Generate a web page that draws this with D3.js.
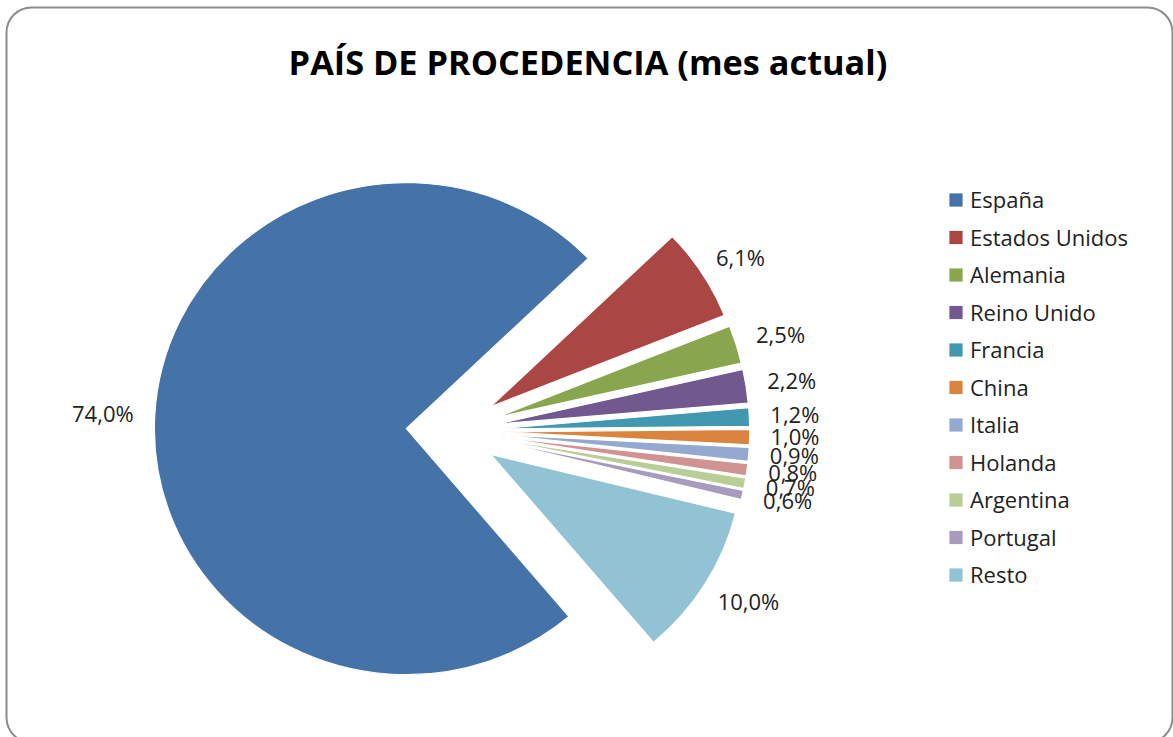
<!DOCTYPE html>
<html lang="es">
<head>
  <meta charset="UTF-8">
  <title>País de procedencia (mes actual)</title>
  <script src="https://d3js.org/d3.v7.min.js"></script>
  <style>
    body {
      margin: 0;
      background: #fff;
      font-family: 'Open Sans', sans-serif;
    }
  </style>
</head>
<body>
  <script>
    var countries = ["España", "Estados Unidos", "Alemania", "Reino Unido", "Francia", "China",
                     "Italia", "Holanda", "Argentina", "Portugal", "Resto"];
    var shares = [74.0, 6.1, 2.5, 2.2, 1.2, 1.0, 0.9, 0.8, 0.7, 0.6, 10.0];
    var colors = ["#4572A7", "#AA4643", "#89A54E", "#71588F", "#4198AF", "#DB843D",
                  "#93A9CF", "#D19392", "#B9CD96", "#A99BBD", "#92C3D4"];
    var title = "PAÍS DE PROCEDENCIA (mes actual)";

    var width = 1173, height = 737;
    var cx = 452, cy = 431, radius = 248, explode = 45;
    var firstAngle = 139.8 * Math.PI / 180;

    var svg = d3.select('body').append('svg')
      .attr('width', width)
      .attr('height', height);

    // chart frame
    svg.append('rect')
      .attr('x', 6.5).attr('y', 7.5)
      .attr('width', 1166).attr('height', 735)
      .attr('rx', 25).attr('ry', 25)
      .attr('fill', '#fff')
      .attr('stroke', '#8c8c8c')
      .attr('stroke-width', 2);

    svg.append('text')
      .attr('x', 588).attr('y', 75)
      .attr('text-anchor', 'middle')
      .attr('font-size', 34.3)
      .attr('font-weight', 700)
      .attr('fill', '#000')
      .text(title);

    var pie = d3.pie()
      .sort(null)
      .value(function(d) { return d; })
      .startAngle(firstAngle)
      .endAngle(firstAngle + 2 * Math.PI);

    var arc = d3.arc().innerRadius(0).outerRadius(radius);
    var arcs = pie(shares);

    function mid(d) { return (d.startAngle + d.endAngle) / 2; }

    // pie is a touch wider than tall in the original
    var g = svg.append('g')
      .attr('transform', 'translate(' + cx + ',' + cy + ') scale(1.016,0.992)');

    g.selectAll('.slice')
      .data(arcs)
      .join('path')
      .attr('class', 'slice')
      .attr('transform', function(d) {
        var a = mid(d);
        return 'translate(' + (explode * Math.sin(a)) + ',' + (-explode * Math.cos(a)) + ')';
      })
      .attr('d', arc)
      .attr('fill', function(d, i) { return colors[i]; })
      .attr('stroke', '#fff')
      .attr('stroke-width', 1.2);

    // data labels, placed just outside each exploded slice
    var labels = svg.append('g').attr('transform', 'translate(' + cx + ',' + cy + ')');
    labels.selectAll('text')
      .data(arcs)
      .join('text')
      .attr('font-size', 22)
      .attr('fill', '#222')
      .attr('text-anchor', 'middle')
      .attr('dy', '0.35em')
      .text(function(d) { return d3.format('.1f')(d.data).replace('.', ',') + '%'; })
      .each(function(d) {
        var a = mid(d);
        var w = this.getComputedTextLength();
        var r = explode + radius + 22 + Math.abs(Math.sin(a)) * w / 2 + Math.abs(Math.cos(a)) * 8;
        d3.select(this)
          .attr('x', 1.01 * r * Math.sin(a))
          .attr('y', -0.94 * r * Math.cos(a));
      });

    // legend
    var legend = svg.append('g').attr('transform', 'translate(949,200)');
    var rows = legend.selectAll('.row')
      .data(countries)
      .join('g')
      .attr('class', 'row')
      .attr('transform', function(d, i) { return 'translate(0,' + (i * 37.5) + ')'; });

    rows.append('rect')
      .attr('x', 0).attr('y', -7)
      .attr('width', 14).attr('height', 14)
      .attr('fill', function(d, i) { return colors[i]; })
      .attr('stroke', '#fff')
      .attr('stroke-width', 0.8);

    rows.append('text')
      .attr('x', 21).attr('y', 8)
      .attr('font-size', 22)
      .attr('fill', '#222')
      .text(function(d) { return d; });
  </script>
</body>
</html>
